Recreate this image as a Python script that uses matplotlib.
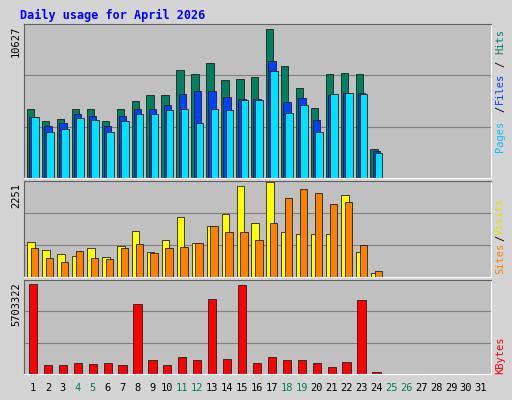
import matplotlib
matplotlib.use("Agg")
import matplotlib.pyplot as plt
import numpy as np

days = list(range(1, 32))
hits = [4954,4093,4236,4954,4954,4093,4954,5529,5960,5960,7683,7396,8185,6965,7036,7180,10627,7970,6462,5026,7396,7467,7396,2082]
files = [4380,3734,3949,4595,4452,3734,4452,4954,4954,5241,6031,6247,6247,5816,5672,5672,8329,5457,5744,4164,5959,6103,6103,1939]
pages = [4380,3303,3518,4308,4164,3303,4093,4595,4595,4882,4954,3949,4954,4882,5600,5600,7611,4667,5241,3303,6031,6103,6031,1795]
visits = [832,636,538,489,685,465,734,1101,587,881,1419,807,1199,1493,2153,1272,2251,1077,1028,1028,1028,1933,587,98]
sites = [685,440,367,612,440,416,685,783,563,685,710,807,1199,1077,1077,881,1272,1860,2080,1982,1737,1786,759,147]
kbytes = [5703322,576738,576738,704902,640820,704902,576738,4421658,897148,576738,1089394,897148,4742068,961230,5639216,704902,1089394,897148,897148,704902,448574,768984,4677986,128164]
weekends = [4,5,11,12,18,19,25,26]

W, H = 512, 400
fig = plt.figure(figsize=(W/100, H/100), dpi=100, facecolor="#d4d4d4")
mono = "DejaVu Sans Mono"
fig.text(20/W, 1-15/H, "Daily usage for April 2026", color="#0000ff", fontweight="bold",
         family=mono, fontsize=8.5, va="center")

def mkax(top, bot):
    ax = fig.add_axes([24/W, 1-bot/H, 467/W, (bot-top)/H])
    ax.set_facecolor("#c0c0c0")
    ax.set_xlim(0.4, 31.67)
    ax.set_xticks([])
    ax.set_yticks([])
    for s in ["top", "left"]:
        ax.spines[s].set_color("#606060")
    for s in ["bottom", "right"]:
        ax.spines[s].set_color("#ffffff")
    return ax

def grid(ax, top):
    ax.set_ylim(0, top)
    for f in (1/3, 2/3):
        ax.axhline(top*f, color="#808080", lw=0.8, zorder=0)

n = len(hits)
x = np.array(days[:n])

ax1 = mkax(24, 178)
t1 = max(hits)*1.035
grid(ax1, t1)
for vals, off, c in [(hits, -0.15, "#00805c"), (files, 0.0, "#0040ff"), (pages, 0.15, "#00e0ff")]:
    ax1.bar(x+off, vals, width=0.5, color=c, edgecolor="#202020", lw=0.6, zorder=2)
fig.text(16/W, 1-26/H, str(max(hits)), rotation=90, ha="center", va="top", family=mono, fontsize=7.5)
for txt, col, yy in [("Pages", "#00c0ff", 136), ("/", "#000000", 109), ("Files", "#0040ff", 88), ("/", "#000000", 64), ("Hits", "#008060", 42)]:
    fig.text(500/W, 1-yy/H, txt, rotation=90, ha="center", va="center", color=col, family=mono, fontsize=7.5)

ax2 = mkax(181, 277)
t2 = max(visits)*1.01
grid(ax2, t2)
for vals, off, c in [(visits, -0.12, "#ffff00"), (sites, 0.12, "#ff8000")]:
    ax2.bar(x+off, vals, width=0.5, color=c, edgecolor="#202020", lw=0.6, zorder=2)
fig.text(16/W, 1-183/H, str(max(visits)), rotation=90, ha="center", va="top", family=mono, fontsize=7.5)
for txt, col, yy in [("Sites", "#ff8000", 258), ("/", "#000000", 238), ("Visits", "#e0e000", 216)]:
    fig.text(500/W, 1-yy/H, txt, rotation=90, ha="center", va="center", color=col, family=mono, fontsize=7.5)

ax3 = mkax(280, 374)
t3 = max(kbytes)*1.0
grid(ax3, t3*1.04)
ax3.bar(x, kbytes, width=0.55, color="#ff0000", edgecolor="#202020", lw=0.6, zorder=2)
fig.text(16/W, 1-282/H, str(max(kbytes)), rotation=90, ha="center", va="top", family=mono, fontsize=7.5)
fig.text(500/W, 1-355/H, "KBytes", rotation=90, ha="center", va="center", color="#ff0000", family=mono, fontsize=7.5)

for d in days:
    xf = (24 + (d-0.4)/(31.67-0.4)*467)/W
    fig.text(xf, 1-388/H, str(d), ha="center", va="center", family=mono, fontsize=7.5,
             color="#00805c" if d in weekends else "#000000")

fig.savefig("out.png", dpi=100, facecolor=fig.get_facecolor())
